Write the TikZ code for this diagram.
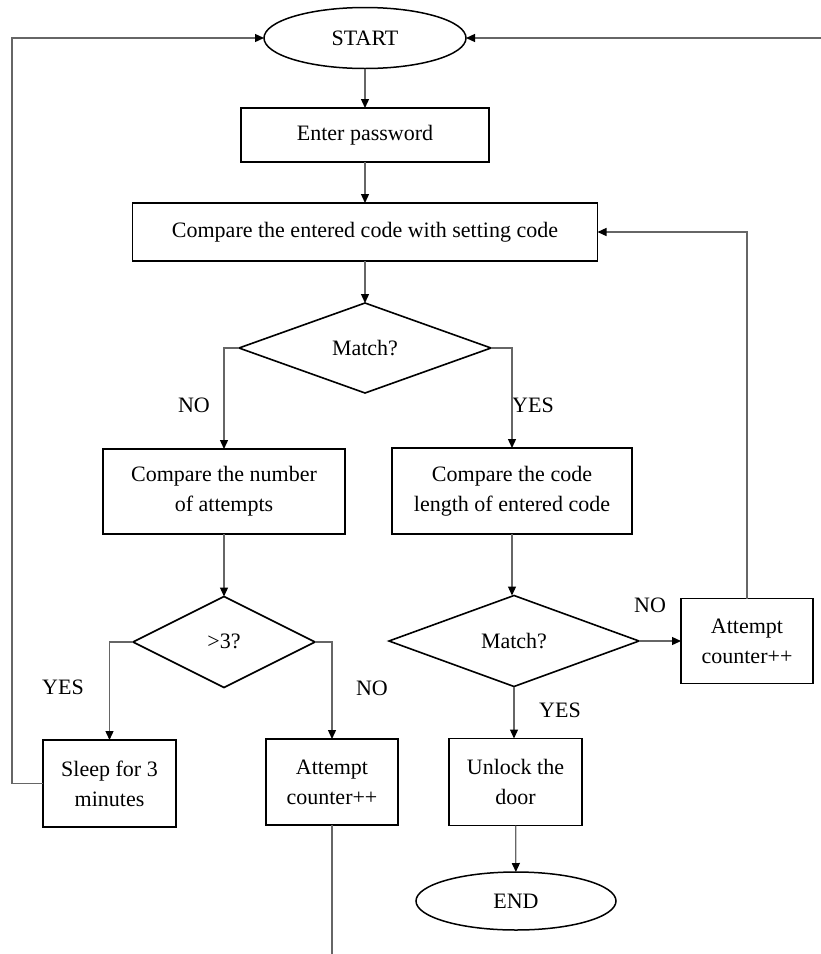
\documentclass[tikz,border=0pt]{standalone}
\usepackage{fontspec}
\setmainfont{Liberation Serif}
\usetikzlibrary{shapes.geometric,arrows.meta}
\begin{document}
\begin{tikzpicture}[x=1pt,y=-1pt,
  every node/.style={font=\fontsize{22}{30}\selectfont, inner sep=0pt, outer sep=0pt},
  box/.style={draw=black, line width=1.5pt, rectangle, align=center},
  term/.style={draw=black, line width=1.5pt, ellipse, minimum width=202pt, minimum height=61pt},
  dec/.style={draw=black, line width=1.6pt, diamond},
  conn/.style={draw=black!60, line width=1.3pt, -{Triangle[length=9pt,width=8pt,fill=black,color=black]}},
  plain/.style={draw=black!60, line width=1.3pt},
  lbl/.style={font=\fontsize{22}{26}\selectfont}
]
\useasboundingbox (0,0) rectangle (821,954);
\fill[white] (0,0) rectangle (821,954);

\node[term] (start) at (365,38) {START};
\node[box, minimum width=248pt, minimum height=54pt] (enter) at (365,135) {Enter password};
\node[box, minimum width=465pt, minimum height=58pt] (cmp) at (365,232) {Compare the entered code with setting code};
\node[dec, minimum width=252pt, minimum height=90pt, aspect=2.8] (m1) at (365,348) {Match?};
\node[box, minimum width=242pt, minimum height=85pt] (cnum) at (224,491.5) {Compare the number\\of attempts};
\node[box, minimum width=240pt, minimum height=86pt] (ccode) at (512,491) {Compare the code\\length of entered code};
\node[dec, minimum width=182pt, minimum height=91pt, aspect=2] (gt3) at (224,642) {\raisebox{1pt}{>3?}};
\node[dec, minimum width=250pt, minimum height=91pt, aspect=2.75] (m2) at (514,641) {Match?};
\node[box, minimum width=132pt, minimum height=85pt] (att2) at (747,641) {Attempt\\counter++};
\node[box, minimum width=133pt, minimum height=87pt] (sleep) at (109.5,783.5) {Sleep for 3\\minutes};
\node[box, minimum width=132pt, minimum height=86pt] (att1) at (332,782) {Attempt\\counter++};
\node[box, minimum width=133pt, minimum height=87pt] (unlock) at (515.5,782) {Unlock the\\door};
\node[term, minimum width=200pt, minimum height=58pt] (end) at (516,901) {END};

\node[lbl] (lno1) at (194,405) {NO};
\node[lbl] (lyes1) at (533,405) {YES};
\node[lbl] (lyes2) at (63,687) {YES};
\node[lbl] (lno2) at (372,688) {NO};
\node[lbl] (lno3) at (650,605) {NO};
\node[lbl] (lyes3) at (560,710) {YES};

\coordinate (rightend) at (821,38);
\coordinate (bottomend) at (332,954);

\draw[conn] (start) -- (enter);
\draw[conn] (enter) -- (cmp);
\draw[conn] (cmp) -- (m1);
\draw[conn] (m1.west) -| (cnum.north);
\draw[conn] (m1.east) -| (ccode.north);
\draw[conn] (cnum) -- (gt3);
\draw[conn] (ccode.south) -- (ccode.south |- m2.north);
\draw[conn] (gt3.west) -| (sleep.north);
\draw[conn] (gt3.east) -| (att1.north);
\draw[conn] (m2.east) -- (m2.east -| att2.west);
\draw[conn] (m2.south) -- (m2.south |- unlock.north);
\draw[conn] (unlock) -- (end);
\draw[conn] (att2.north) |- (cmp.east);
\draw[conn] (sleep.west) -- ++(-31,0) |- (start.west);
\draw[conn] (rightend) -- (start.east);
\draw[plain] (att1.south) -- (bottomend);
\end{tikzpicture}
\end{document}
